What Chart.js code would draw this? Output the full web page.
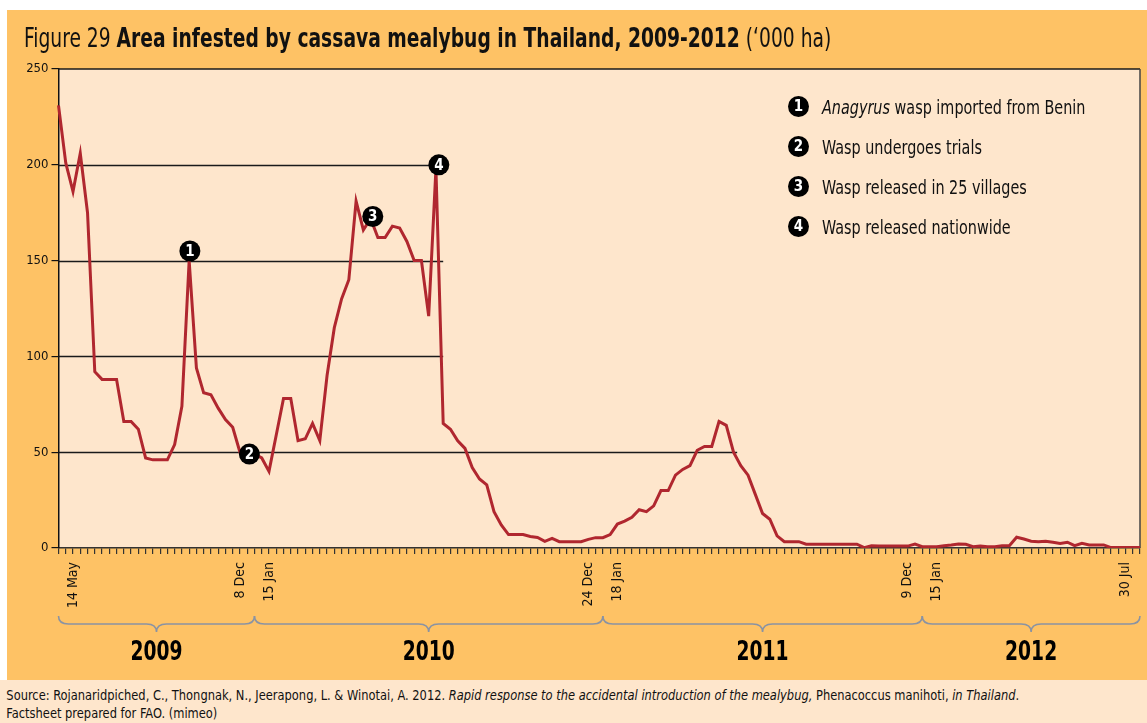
<!DOCTYPE html>
<html>
<head>
<meta charset="utf-8">
<script src="https://cdn.jsdelivr.net/npm/chart.js@4"></script>
<style>
  body { margin: 0; background: #fff; }
  #page { position: relative; width: 1147px; height: 723px; overflow: hidden; font-family: "DejaVu Sans Condensed", "DejaVu Sans", sans-serif; color: #111; }
  #band { position: absolute; left: 7px; top: 10px; width: 1140px; height: 670px; background: #fec265; }
  #source { position: absolute; left: 0; top: 680px; width: 1147px; height: 43px; background: #fee6cc; }
  #source p { margin: 0; padding: 6px 0 0 7px; font-size: 14px; line-height: 18px; white-space: nowrap; transform: scaleX(0.91); transform-origin: 0 0; }
  #title { position: absolute; left: 24px; top: 22px; font-size: 27px; white-space: nowrap; z-index: 2; transform: scaleX(0.77); transform-origin: 0 0; }
  #chart { position: absolute; left: 0; top: 0; z-index: 1; }
  #legend { position: absolute; left: 788px; top: 87px; z-index: 2; font-size: 20px; }
  #legend div { height: 40px; line-height: 40px; white-space: nowrap; }
  #legend span.n { display: inline-block; width: 21px; height: 21px; line-height: 21px; border-radius: 50%; background: #000; color: #fff; font-weight: bold; font-size: 15px; text-align: center; vertical-align: middle; margin-right: 13px; position: relative; top: -2px; }
  #legend span.t { display: inline-block; transform: scaleX(0.8); transform-origin: 0 50%; }
</style>
</head>
<body>
<div id="page">
  <div id="band"></div>
  <div id="source"><p>Source: Rojanaridpiched, C., Thongnak, N., Jeerapong, L. &amp; Winotai, A. 2012. <i>Rapid response to the accidental introduction of the mealybug,</i> Phenacoccus manihoti, <i>in Thailand</i>.<br>Factsheet prepared for FAO. (mimeo)</p></div>
  <canvas id="chart" width="1147" height="723"></canvas>
  <div id="title">Figure 29 <b>Area infested by cassava mealybug in Thailand, 2009-2012</b> (‘000 ha)</div>
  <div id="legend">
    <div><span class="n">1</span><span class="t"><i>Anagyrus</i> wasp imported from Benin</span></div>
    <div><span class="n">2</span><span class="t">Wasp undergoes trials</span></div>
    <div><span class="n">3</span><span class="t">Wasp released in 25 villages</span></div>
    <div><span class="n">4</span><span class="t">Wasp released nationwide</span></div>
  </div>
</div>
<script>
// area infested, '000 ha, one value per survey
const area = [
  231, 201, 186, 206, 175, 92, 88, 88, 88, 66,
  66, 62, 47, 46, 46, 46, 54, 74, 150, 94,
  81, 80, 73, 67, 63, 50, 49, 49, 47, 40,
  59, 78, 78, 56, 57, 65, 56, 90, 115, 130,
  140, 181, 166, 172, 162, 162, 168, 167, 160, 150,
  150, 121, 198, 65, 62, 56, 52, 42, 36, 33,
  19, 12, 7, 7, 7, 6, 5.5, 3.5, 5, 3.3,
  3.3, 3.3, 3.3, 4.5, 5.4, 5.4, 7, 12.5, 14, 16,
  20, 19, 22, 30, 30, 38, 41, 43, 51, 53,
  53, 66, 64, 50, 43, 38, 28, 18, 15, 6.3,
  3.3, 3.3, 3.3, 2, 2, 2, 2, 2, 2, 2,
  2, 0.2, 1.2, 1, 1, 1, 1, 1, 2, 0.7,
  0.7, 0.7, 1.2, 1.6, 2.1, 1.9, 0.7, 1, 0.7, 0.7,
  1.2, 1.2, 5.6, 4.7, 3.5, 3.3, 3.5, 3, 2.4, 3,
  1.2, 2.4, 1.6, 1.6, 1.6, 0.2, 0.2, 0.2, 0.2, 0.2
];

// dated ticks on the x axis
const tickLabels = ['14 May', '8 Dec', '15 Jan', '24 Dec', '18 Jan', '9 Dec', '15 Jan', '30 Jul'];
const tickIndex = [2, 25, 29, 73, 77, 117, 121, 147];

// years under the braces
const years = ['2009', '2010', '2011', '2012'];
const yearBreaks = [0, 27, 75, 119, 149];

// numbered events on the line
const markerText = ['1', '2', '3', '4'];
const markerIdx = [18.1, 26.3, 43.3, 52.4];
const markerVal = [155, 49, 173, 200];

// horizontal rules and how far along they run
const gridVals = [50, 100, 150, 200];
const gridEnd = [93.5, 53, 53, 53];

const labels = area.map((v, i) => {
  const k = tickIndex.indexOf(i);
  return k >= 0 ? tickLabels[k] : '';
});

const narrow = '"DejaVu Sans Condensed", "DejaVu Sans", sans-serif';

const decor = {
  id: 'decor',
  beforeDraw(chart) {
    const { ctx, chartArea: a } = chart;
    ctx.save();
    ctx.fillStyle = '#fee6cc';
    ctx.fillRect(a.left, a.top, a.right - a.left, a.bottom - a.top);
    ctx.restore();
  },
  beforeDatasetsDraw(chart) {
    const { ctx, chartArea: a, scales: { x, y } } = chart;
    ctx.save();
    ctx.strokeStyle = '#1a1a1a';
    ctx.lineWidth = 1.3;
    gridVals.forEach((v, i) => {
      const py = Math.round(y.getPixelForValue(v)) + 0.5;
      ctx.beginPath();
      ctx.moveTo(a.left, py);
      ctx.lineTo(x.getPixelForValue(gridEnd[i]), py);
      ctx.stroke();
    });
    // top and right frame
    ctx.lineWidth = 1.5;
    ctx.beginPath();
    ctx.moveTo(a.left, a.top);
    ctx.lineTo(a.right, a.top);
    ctx.stroke();
    ctx.strokeStyle = '#444';
    ctx.beginPath();
    ctx.moveTo(a.right, a.top);
    ctx.lineTo(a.right, a.bottom);
    ctx.stroke();
    ctx.restore();
  },
  afterDatasetsDraw(chart) {
    const { ctx, scales: { x, y } } = chart;
    ctx.save();
    markerIdx.forEach((m, i) => {
      const px = x.getPixelForValue(m);
      const py = y.getPixelForValue(markerVal[i]);
      ctx.fillStyle = '#000';
      ctx.beginPath();
      ctx.arc(px, py, 10.5, 0, Math.PI * 2);
      ctx.fill();
      ctx.fillStyle = '#fff';
      ctx.font = 'bold 15px ' + narrow;
      ctx.textAlign = 'center';
      ctx.textBaseline = 'middle';
      ctx.fillText(markerText[i], px, py + 1);
    });
    ctx.restore();
  },
  afterDraw(chart) {
    const { ctx, scales: { x } } = chart;
    ctx.save();
    ctx.strokeStyle = '#8a93a3';
    ctx.lineWidth = 1.6;
    const top = 616, mid = 624, tip = 632, r = 10;
    for (let i = 0; i < years.length; i++) {
      const x0 = x.getPixelForValue(yearBreaks[i]);
      const x1 = x.getPixelForValue(yearBreaks[i + 1]);
      const xm = (x0 + x1) / 2;
      ctx.beginPath();
      ctx.moveTo(x0, top);
      ctx.quadraticCurveTo(x0, mid, x0 + r, mid);
      ctx.lineTo(xm - r, mid);
      ctx.quadraticCurveTo(xm, mid, xm, tip);
      ctx.quadraticCurveTo(xm, mid, xm + r, mid);
      ctx.lineTo(x1 - r, mid);
      ctx.quadraticCurveTo(x1, mid, x1, top);
      ctx.stroke();
      ctx.save();
      ctx.translate(xm, 653);
      ctx.scale(0.77, 1);
      ctx.fillStyle = '#000';
      ctx.font = 'bold 27px ' + narrow;
      ctx.textAlign = 'center';
      ctx.textBaseline = 'middle';
      ctx.fillText(years[i], 0, 0);
      ctx.restore();
    }
    ctx.restore();
  }
};

const chart = new Chart(document.getElementById('chart'), {
  type: 'line',
  data: {
    labels: labels,
    datasets: [{
      label: 'Area infested',
      data: area,
      borderColor: '#b0272f',
      borderWidth: 3,
      pointRadius: 0,
      tension: 0,
      fill: false
    }]
  },
  options: {
    responsive: false,
    animation: false,
    layout: { padding: { top: 69, left: 0, right: 7, bottom: 0 } },
    plugins: { legend: { display: false }, title: { display: false }, tooltip: { enabled: false } },
    scales: {
      x: {
        type: 'category',
        offset: false,
        afterFit(s) { s.height = 175; s.paddingLeft = 0; s.paddingRight = 0; },
        grid: { drawOnChartArea: false, drawTicks: true, tickLength: 6, color: '#333', lineWidth: 1.2 },
        border: { display: true, color: '#333', width: 1.5 },
        ticks: {
          autoSkip: false, maxRotation: 90, minRotation: 90, padding: 8,
          color: '#111', font: { family: narrow, size: 14 }
        }
      },
      y: {
        min: 0, max: 250,
        afterFit(s) { s.width = 58.5; s.paddingTop = 0; s.paddingBottom = 0; },
        grid: { drawOnChartArea: false, drawTicks: true, tickLength: 7, color: '#111', lineWidth: 1.2 },
        border: { display: true, color: '#111', width: 1.5 },
        ticks: { stepSize: 50, padding: 3, color: '#111', font: { family: narrow, size: 13 } }
      }
    }
  },
  plugins: [decor]
});
</script>
</body>
</html>
